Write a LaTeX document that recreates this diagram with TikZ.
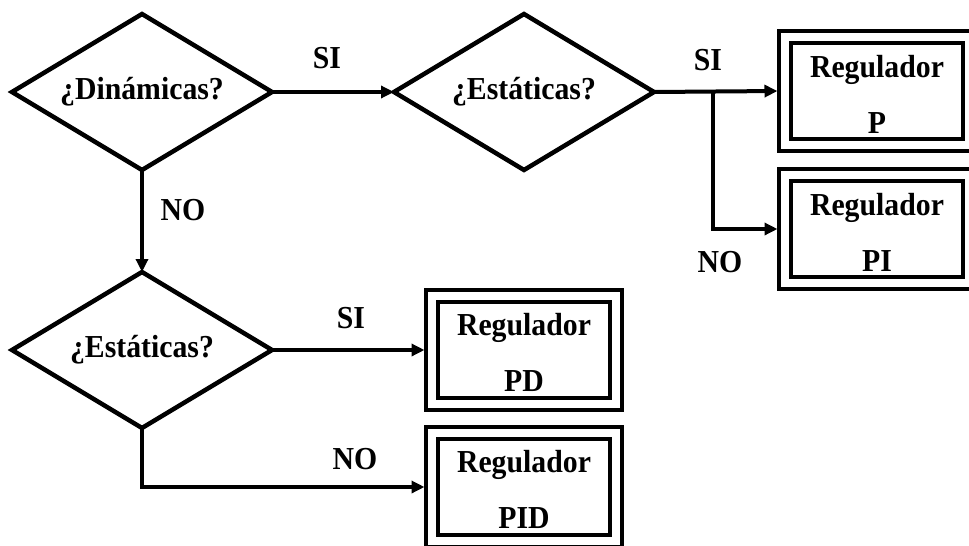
\documentclass[tikz,border=0pt]{standalone}
\usepackage{fontspec}
\setmainfont[FakeStretch=0.93]{Liberation Serif}
\usetikzlibrary{shapes.geometric,arrows.meta}
\begin{document}
\begin{tikzpicture}[x=1pt,y=-1pt,
  every node/.style={font=\fontsize{32}{56}\selectfont\bfseries},
  decision/.style={diamond, draw, line width=4.5pt, aspect=1.667,
    minimum width=260pt, minimum height=156pt, inner sep=0pt, outer sep=0pt},
  regbox/.style={rectangle, draw, line width=4pt, double, double distance=7.5pt,
    minimum width=184pt, minimum height=108pt, inner sep=0pt, outer sep=7.5pt,
    align=center},
  flow/.style={line width=4pt, -{Triangle[length=13pt,width=12pt]}},
  tag/.style={inner sep=0pt}
]
\useasboundingbox (0,0) rectangle (969,546);

% decisions
\node[decision] (dyn)  at (142,92)  {¿Dinámicas?};
\node[decision] (est1) at (524,92)  {¿Estáticas?};
\node[decision] (est2) at (142,350) {¿Estáticas?};

% controllers
\node[regbox] (p)   at (877,91)  {\rule{0pt}{28pt}Regulador\\P};
\node[regbox] (pi)  at (877,229) {\rule{0pt}{28pt}Regulador\\PI};
\node[regbox] (pd)  at (524,350) {\rule{0pt}{28pt}Regulador\\PD};
\node[regbox] (pid) at (524,487) {\rule{0pt}{28pt}Regulador\\PID};

% connectors
\coordinate (split) at (713,92);
\draw[flow] (dyn.east) -- (est1.west);
\draw[flow] (dyn.south) -- (est2.north);
\draw[flow] (est1.east) -- (p.west);
\draw[flow] (split) |- (pi.west);
\draw[flow] (est2.east) -- (pd.west);
\draw[flow] (est2.south) |- (pid.west);

% branch labels
\node[tag] (l1) at (327,58)  {SI};
\node[tag] (l2) at (708,60)  {SI};
\node[tag] (l3) at (183,210) {NO};
\node[tag] (l4) at (720,262) {NO};
\node[tag] (l5) at (351,318) {SI};
\node[tag] (l6) at (355,459) {NO};
\end{tikzpicture}
\end{document}
